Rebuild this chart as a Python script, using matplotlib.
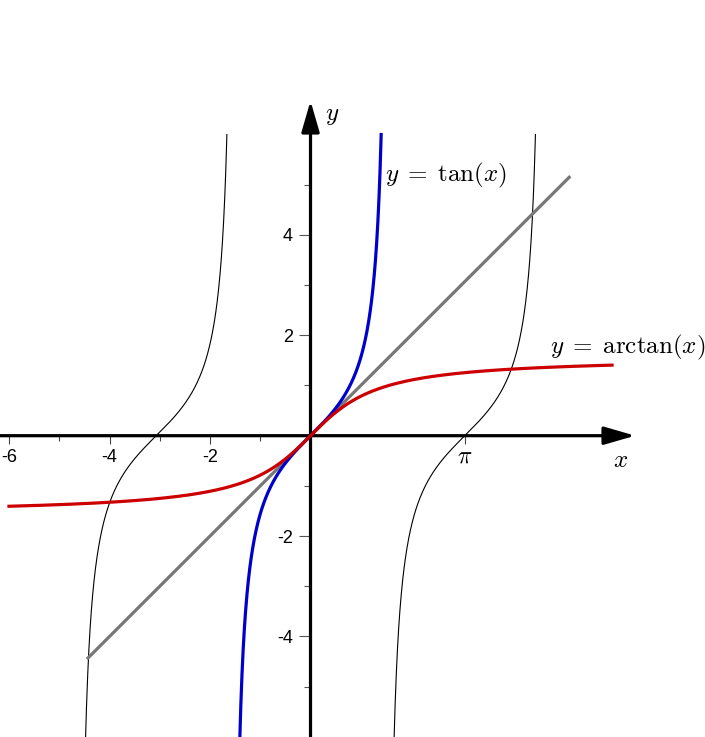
import numpy as np
import matplotlib
matplotlib.use("Agg")
import matplotlib.pyplot as plt

plt.rcParams['mathtext.fontset'] = 'cm'
plt.rcParams['font.family'] = ['Liberation Sans', 'DejaVu Sans']

# ---- data ----
PI_MARK = 3.07                      # position where the reference places pi
TAN_LIMIT = 6.0                     # tan branches drawn for |y| <= 6
TAN_SHIFTS_THIN = [-PI_MARK, PI_MARK]
LINE_X = [-4.45, 5.17]              # y = x segment
ARCTAN_X = [-6.0, 6.0]
X_MAJOR = [-6, -4, -2]
X_MAJOR_LABELS = ['-6', '-4', '-2']
X_MINOR = [-5, -3, -1]
Y_MAJOR = [-4, -2, 2, 4]
Y_MAJOR_LABELS = ['-4', '-2', '2', '4']
Y_MINOR = [-5, -3, -1, 1, 3, 5]
XLIM = (-6.179, 7.85)
YLIM = (-6.002, 8.679)
X_ARROW_TIP = 6.46
Y_ARROW_TIP = 6.67

BLUE = '#0000cc'
RED = '#cc0000'
GRAY = '#777777'

fig = plt.figure(figsize=(7.05, 7.37), dpi=100)
ax = fig.add_axes([0, 0, 1, 1])
ax.set_xlim(*XLIM)
ax.set_ylim(*YLIM)

# tan branches
t = np.linspace(-np.arctan(TAN_LIMIT), np.arctan(TAN_LIMIT), 600)
for s in TAN_SHIFTS_THIN:
    ax.plot(t + s, np.tan(t), color='black', lw=0.8, zorder=1)

# y = x
lx = np.array(LINE_X)
ax.plot(lx, lx, color=GRAY, lw=2.3, zorder=2, solid_capstyle='butt')

# axes with arrows
arrow = dict(arrowstyle='-|>,head_length=1.9,head_width=0.55', lw=2.3,
             color='black', shrinkA=0, shrinkB=0, mutation_scale=10)
ax.annotate('', xy=(X_ARROW_TIP, 0), xytext=(XLIM[0], 0), arrowprops=arrow, zorder=3)
ax.annotate('', xy=(0, Y_ARROW_TIP), xytext=(0, YLIM[0]), arrowprops=arrow, zorder=3)

# main tan branch
ax.plot(t, np.tan(t), color=BLUE, lw=2.3, zorder=4)

# arctan
ax_ = np.linspace(ARCTAN_X[0], ARCTAN_X[1], 600)
ax.plot(ax_, np.arctan(ax_), color=RED, lw=2.3, zorder=5)

# spines / ticks
for sp in ax.spines.values():
    sp.set_visible(False)
ax.spines['left'].set_position(('data', 0))
ax.spines['bottom'].set_position(('data', 0))
ax.xaxis.set_ticks_position('bottom')
ax.yaxis.set_ticks_position('left')

ax.set_xticks(X_MAJOR + [PI_MARK])
ax.set_xticklabels(X_MAJOR_LABELS + [''])
ax.set_xticks(X_MINOR, minor=True)
ax.set_yticks(Y_MAJOR)
ax.set_yticklabels(Y_MAJOR_LABELS)
ax.set_yticks(Y_MINOR, minor=True)

ax.tick_params(axis='x', which='major', length=5.8, width=0.8, color='#444444',
               labelsize=13, pad=4)
ax.tick_params(axis='x', which='minor', length=3.6, width=0.8, color='#444444')
ax.tick_params(axis='y', which='major', length=8.8, width=0.8, color='#555555',
               labelsize=13, pad=4)
ax.tick_params(axis='y', which='minor', length=5, width=0.8, color='#555555')

# pi label at its tick
ax.text(PI_MARK, -0.42, r'$\pi$', fontsize=17, ha='center', va='center')

# labels
ax.text(6.16, -0.48, r'$x$', fontsize=18, ha='center', va='center')
ax.text(0.43, 6.39, r'$y$', fontsize=18, ha='center', va='center')
ax.text(1.48, 5.19, r'$y\;=\;\tan(x)$', fontsize=18, ha='left', va='center')
ax.text(4.77, 1.75, r'$y\;=\;\mathrm{arctan}(x)$', fontsize=18, ha='left', va='center')

fig.savefig('out.png', dpi=100)
